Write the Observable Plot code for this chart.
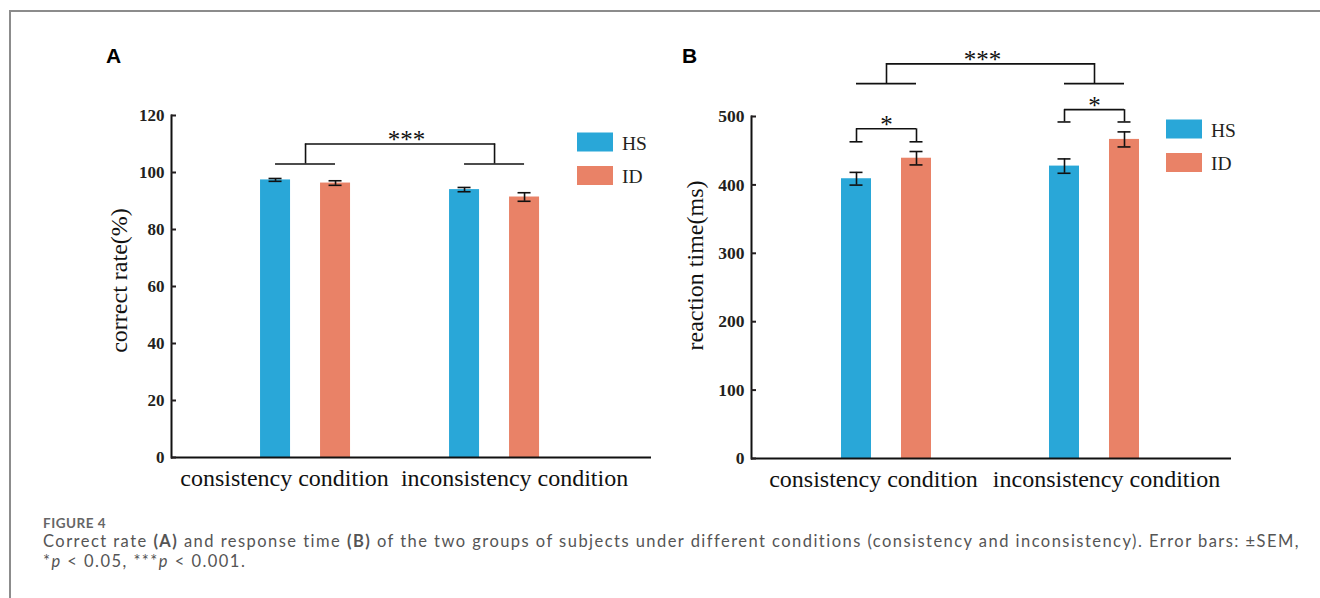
<!DOCTYPE html>
<html><head><meta charset="utf-8">
<script src="https://cdn.jsdelivr.net/npm/d3@7"></script>
<script src="https://cdn.jsdelivr.net/npm/@observablehq/plot@0.6"></script>
<style>
body{margin:0;background:#fff;}
#page{position:relative;width:1320px;height:598px;overflow:hidden;background:#fff;}
#frame{position:absolute;left:9px;top:10px;width:1400px;height:700px;border-top:2px solid #8c8c8c;border-left:2px solid #8c8c8c;}
.panel{position:absolute;top:30px;}
#overlay{position:absolute;left:0;top:0;}
.cap{position:absolute;left:43px;white-space:nowrap;font-family:Lato,'Open Sans',sans-serif;color:#555;line-height:1.2;}
#figlabel{top:515.2px;font-size:13.5px;font-weight:700;color:#666;}
.line{font-size:16.5px;}
#cap1{top:531.7px;}
#cap2{top:551.7px;}
.line b{font-weight:700;}
</style></head>
<body><div id="page"><div id="frame"></div>
<div class="panel" id="pA" style="left:60px"></div>
<div class="panel" id="pB" style="left:660px"></div>
<svg id="overlay" width="1320" height="598"></svg>
<div class="cap" id="figlabel"><span>FIGURE 4</span></div>
<div class="cap line" id="cap1"><span>Correct rate </span><b>(A)</b><span> and response time </span><b>(B)</b><span> of the two groups of subjects under different conditions (consistency and inconsistency). Error bars: &#177;SEM,</span></div>
<div class="cap line" id="cap2"><span>*</span><i>p</i><span> &lt; 0.05, ***</span><i>p</i><span> &lt; 0.001.</span></div>
</div>
<script>
// ---- data ----
const conditions = ["consistency condition", "inconsistency condition"];
const groups = ["HS", "ID"];
const colors = ["#29a7d8", "#e98267"];
// Panel A: correct rate (%)
const rateHS = [97.4, 94.0];
const rateID = [96.3, 91.4];
const rateSemHS = [0.5, 0.75];
const rateSemID = [0.8, 1.5];
const rateTicks = [0, 20, 40, 60, 80, 100, 120];
const rateCondSig = [{label: "***", top: 110, foot: 103}];
// Panel B: reaction time (ms)
const rtHS = [409, 427.5];
const rtID = [439, 466.5];
const rtSemHS = [9.3, 10.5];
const rtSemID = [9.8, 11];
const rtTicks = [0, 100, 200, 300, 400, 500];
const rtCondSig = [{label: "***", top: 577, foot: 548}];
const rtGroupSig = [
  {cond: "consistency condition", label: "*", top: 482, foot: 463},
  {cond: "inconsistency condition", label: "*", top: 510, foot: 492}
];

const SERIF = "'Liberation Serif','Times New Roman',serif";
const BAND = 90, BAR = 30, CAP = 13, OFF = (BAND - BAR) / 2;

function rows(hs, id, semHS, semID) {
  return {
    HS: conditions.map((c, i) => ({cond: c, group: "HS", value: hs[i], sem: semHS[i]})),
    ID: conditions.map((c, i) => ({cond: c, group: "ID", value: id[i], sem: semID[i]}))
  };
}

function panel(cfg) {
  const r = rows(cfg.hs, cfg.id, cfg.semHS, cfg.semID);
  const capHS = {insetLeft: BAR / 2 - CAP / 2, insetRight: BAND - BAR / 2 - CAP / 2};
  const capID = {insetLeft: BAND - BAR / 2 - CAP / 2, insetRight: BAR / 2 - CAP / 2};
  const span = {insetLeft: BAR / 2, insetRight: BAR / 2};
  const lo = d => d.value - d.sem, hi = d => d.value + d.sem;
  const lineStyle = {stroke: "#111", strokeWidth: 1.6};
  const marks = [
    Plot.barY(r.HS, {x: "cond", y: "value", fill: "group", insetRight: BAND - BAR}),
    Plot.barY(r.ID, {x: "cond", y: "value", fill: "group", insetLeft: BAND - BAR}),
    Plot.ruleX(r.HS, {x: "cond", y1: lo, y2: hi, dx: -OFF, ...lineStyle}),
    Plot.ruleX(r.ID, {x: "cond", y1: lo, y2: hi, dx: OFF, ...lineStyle}),
    Plot.tickY(r.HS, {x: "cond", y: lo, ...capHS, ...lineStyle}),
    Plot.tickY(r.HS, {x: "cond", y: hi, ...capHS, ...lineStyle}),
    Plot.tickY(r.ID, {x: "cond", y: lo, ...capID, ...lineStyle}),
    Plot.tickY(r.ID, {x: "cond", y: hi, ...capID, ...lineStyle}),
    Plot.ruleY([0], {stroke: "#111", strokeWidth: 2}),
    Plot.frame({anchor: "left", stroke: "#111", strokeWidth: 2}),
    Plot.axisY({ticks: cfg.ticks, tickSize: -5, tickPadding: 12, fontSize: cfg.tickFont, fontWeight: "bold",
      fontFamily: SERIF, label: null, strokeWidth: 2, fill: "#231f20"}),
    Plot.text([conditions[0]], {x: d => d, frameAnchor: "bottom", lineAnchor: "bottom", dy: 28,
      dx: cfg.labelDx[0], fontSize: 24, fontFamily: SERIF, fill: "#111"}),
    Plot.text([conditions[1]], {x: d => d, frameAnchor: "bottom", lineAnchor: "bottom", dy: 28,
      dx: cfg.labelDx[1], fontSize: 24, fontFamily: SERIF, fill: "#111"}),
    Plot.text([cfg.yLabel], {frameAnchor: "left", rotate: -90, textAnchor: "middle", lineAnchor: "bottom",
      dx: cfg.titleDx, dy: cfg.titleDy, fontSize: 24, fontFamily: SERIF, fill: "#111"})
  ];
  for (const s of cfg.condSig) {
    marks.push(
      Plot.tickY(conditions, {x: d => d, y: () => s.foot, ...span, ...lineStyle}),
      Plot.ruleX(conditions, {x: d => d, y1: () => s.foot, y2: () => s.top, ...lineStyle}),
      Plot.line(conditions, {x: d => d, y: () => s.top, ...lineStyle}),
      Plot.text([s.label], {frameAnchor: "middle", y: () => s.top, text: d => d, lineAnchor: "bottom",
        dy: 4, dx: cfg.condSigDx, fontSize: 25, fontFamily: SERIF, fill: "#111"})
    );
  }
  for (const s of (cfg.groupSig || [])) {
    const d0 = [s];
    marks.push(
      Plot.ruleX(d0, {x: "cond", y1: "foot", y2: "top", dx: -OFF, ...lineStyle}),
      Plot.ruleX(d0, {x: "cond", y1: "foot", y2: "top", dx: OFF, ...lineStyle}),
      Plot.tickY(d0, {x: "cond", y: "top", ...span, ...lineStyle}),
      Plot.tickY(d0, {x: "cond", y: "foot", ...capHS, ...lineStyle}),
      Plot.tickY(d0, {x: "cond", y: "foot", ...capID, ...lineStyle}),
      Plot.text(d0, {x: "cond", y: "top", text: "label", lineAnchor: "bottom", dy: 4,
        fontSize: 25, fontFamily: SERIF, fill: "#111"})
    );
  }
  return Plot.plot({
    width: 600, height: 480,
    marginLeft: cfg.margins[0], marginRight: cfg.margins[1], marginTop: cfg.margins[2], marginBottom: cfg.margins[3],
    style: {fontFamily: SERIF, fontSize: "16px", color: "#231f20", background: "transparent", overflow: "visible"},
    x: {domain: conditions, ...cfg.xband, round: false, axis: null},
    y: {domain: cfg.domain, axis: null},
    color: {domain: groups, range: colors},
    marks
  });
}

document.getElementById("pA").appendChild(panel({
  hs: rateHS, id: rateID, semHS: rateSemHS, semID: rateSemID, ticks: rateTicks, domain: [0, 120],
  yLabel: "correct rate(%)", condSig: rateCondSig, tickFont: 17,
  margins: [111, 9, 85, 53],
  xband: {paddingInner: 0.5238, paddingOuter: 0.5317, align: 0.443},
  labelDx: [-21, 20], titleDx: -45, titleDy: -6, condSigDx: -5
}));
document.getElementById("pB").appendChild(panel({
  hs: rtHS, id: rtID, semHS: rtSemHS, semID: rtSemID, ticks: rtTicks, domain: [0, 500],
  yLabel: "reaction time(ms)", condSig: rtCondSig, groupSig: rtGroupSig, tickFont: 17.5,
  margins: [91, 29, 86, 52],
  xband: {paddingInner: 0.5673, paddingOuter: 0.4375, align: 0.4945},
  labelDx: [-13, 12], titleDx: -49, titleDy: -22, condSigDx: -9
}));

// ---- overlay: panel letters and legends ----
const ov = d3.select("#overlay");
ov.append("text").attr("x", 106).attr("y", 63).text("A")
  .attr("font-family", "'Liberation Sans',Arial,sans-serif").attr("font-weight", "bold").attr("font-size", 21);
ov.append("text").attr("x", 682).attr("y", 63).text("B")
  .attr("font-family", "'Liberation Sans',Arial,sans-serif").attr("font-weight", "bold").attr("font-size", 21);
function legend(x, y) {
  groups.forEach((g, i) => {
    ov.append("rect").attr("x", x).attr("y", y + i * 33.5).attr("width", 36).attr("height", 19).attr("fill", colors[i]);
    ov.append("text").attr("x", x + 45).attr("y", y + i * 33.5 + 17).text(g)
      .attr("font-family", SERIF).attr("font-size", 19.5).attr("fill", "#231f20");
  });
}
legend(577, 132.5);
legend(1166, 119.5);

// caption tracking: stretch line 1 to the reference's measure, reuse for line 2
function track(el, target) {
  const w = el.getBoundingClientRect().width;
  const n = el.textContent.length;
  return Math.max(0, (target - w) / n);
}
const c1 = document.getElementById("cap1"), c2 = document.getElementById("cap2"), fl = document.getElementById("figlabel");
const ls = track(c1, 1257);
c1.style.letterSpacing = ls + "px";
c2.style.letterSpacing = ls + "px";
fl.style.letterSpacing = track(fl, 63) + "px";
</script>
</body></html>
